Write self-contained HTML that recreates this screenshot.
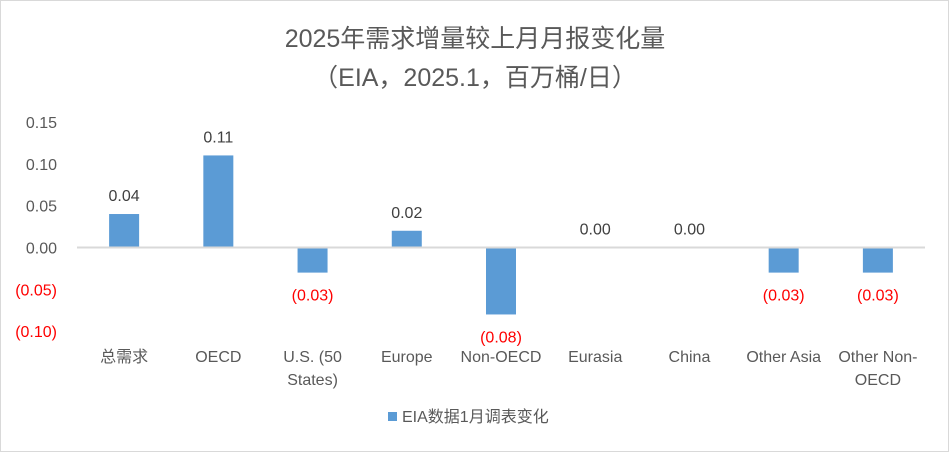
<!DOCTYPE html>
<html><head><meta charset="utf-8"><style>
body{margin:0;background:#fff}
svg{display:block;font-family:"Liberation Sans","Noto Sans CJK SC",sans-serif}
</style></head><body>
<svg id="c" width="949" height="452" viewBox="0 0 949 452">
<rect x="0.5" y="0.5" width="948" height="451" fill="#fff" stroke="#d9d9d9"/>
<text x="475" y="47" text-anchor="middle" font-size="25" fill="#595959">2025年需求增量较上月月报变化量</text>
<text x="475" y="86" text-anchor="middle" font-size="25" fill="#595959">（EIA，2025.1，百万桶/日）</text>
<g id="yaxis"></g>
<g id="bars"></g>
<g id="xaxis"></g>
<rect x="388" y="412" width="9" height="9" fill="#5b9bd5"/>
<text x="402" y="422" font-size="16" fill="#595959">EIA数据1月调表变化</text>
</svg>
<script>
const categories=[["总需求"],["OECD"],["U.S. (50","States)"],["Europe"],["Non-OECD"],["Eurasia"],["China"],["Other Asia"],["Other Non-","OECD"]];
const values=[0.04,0.11,-0.03,0.02,-0.08,0.00,0.00,-0.03,-0.03];
const tickValues=[0.15,0.10,0.05,0.00,-0.05,-0.10];
const tickLabels=["0.15","0.10","0.05","0.00","(0.05)","(0.10)"];
const NS="http://www.w3.org/2000/svg";
const x0=77,x1=925,zeroY=247.5,scale=837;
const y=v=>zeroY-v*scale;
const band=(x1-x0)/categories.length;
const cx=i=>x0+band*(i+0.5);
const fmt=v=>v<0?"("+Math.abs(v).toFixed(2)+")":v.toFixed(2);
function mk(tag,attrs,parent,text){const e=document.createElementNS(NS,tag);for(const k in attrs)e.setAttribute(k,attrs[k]);if(text!==undefined)e.textContent=text;document.getElementById(parent).appendChild(e);return e;}
tickValues.forEach((t,i)=>{
  const e=mk("text",{x:57,y:y(t)+6,"text-anchor":"end","font-size":"16",fill:t<0?"#ff0000":"#595959"},"yaxis",tickLabels[i]);
  
  
});
const zl=mk("line",{x1:x0,x2:x1,y1:zeroY,y2:zeroY,stroke:"#d9d9d9","stroke-width":"2"},"xaxis");


values.forEach((v,i)=>{
  const top=Math.min(y(v),zeroY),h=Math.abs(y(v)-zeroY);
  const r=mk("rect",{x:cx(i)-15,y:top,width:30,height:h,fill:"#5b9bd5"},"bars");
  
  
  const ly=v<0?y(v)+28:y(v)-13;
  const t=mk("text",{x:cx(i),y:ly,"text-anchor":"middle","font-size":"16",fill:v<0?"#ff0000":"#404040"},"bars",fmt(v));
  
  
  categories[i].forEach((line,j)=>{
    const c=mk("text",{x:cx(i),y:362+j*23,"text-anchor":"middle","font-size":"16",fill:"#595959"},"xaxis",line);
    
    
  });
});
</script>
</body></html>
